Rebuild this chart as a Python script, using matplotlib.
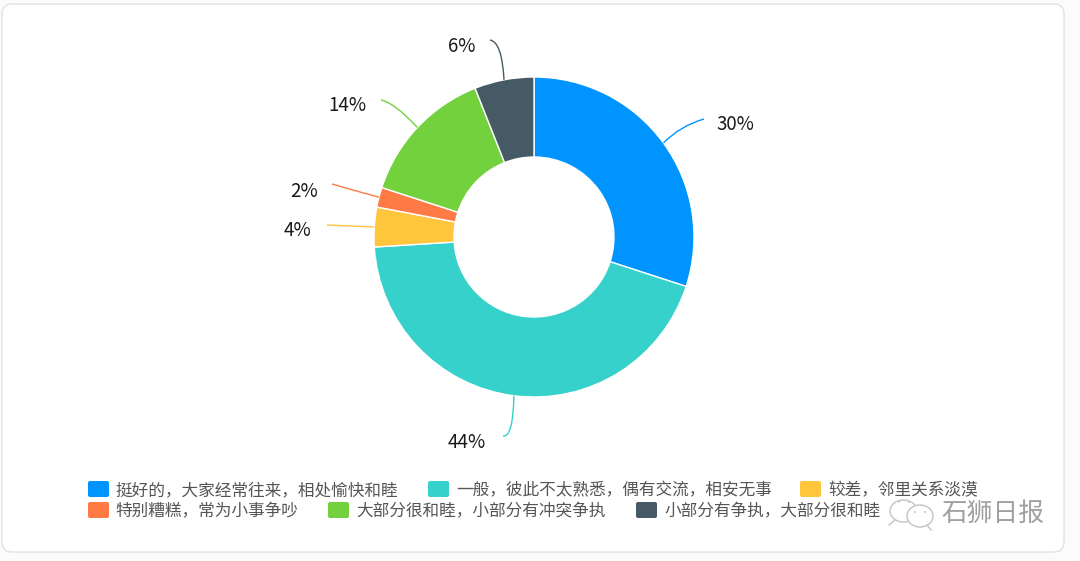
import numpy as np
import matplotlib
matplotlib.use('Agg')
import matplotlib.pyplot as plt
from matplotlib.patches import FancyBboxPatch, Ellipse, Circle, PathPatch
from matplotlib.path import Path

plt.rcParams['font.family'] = ['Noto Sans CJK SC', 'DejaVu Sans']

# data
categories = ['挺好的，大家经常往来，相处愉快和睦', '一般，彼此不太熟悉，偶有交流，相安无事', '较差，邻里关系淡漠',
              '特别糟糕，常为小事争吵', '大部分很和睦，小部分有冲突争执', '小部分有争执，大部分很和睦']
values = [30, 44, 4, 2, 14, 6]
colors = ['#0094FF', '#36D1CB', '#FFC53D', '#FF7A45', '#73D13D', '#465A65']

# layout in pixels, y measured from the top of the picture
W, H = 1080, 561
cx, cy, R = 534, 237, 160
label_pos = [(735, 124), (467, 442), (297, 230), (304, 191), (347, 105), (462, 46)]
line_end = [(704, 119), (503, 436), (327, 225), (332, 184), (381, 100), (490, 40)]
line_ctrl = [(680, 126), (513, 438), (350, 226), (345, 188), (395, 103), (502, 42)]
swatch_x = [88, 428, 800, 88, 328, 636]
text_x = [115, 456, 828, 115, 356, 664]
row_y = [489, 489, 489, 510, 510, 510]


def pixel_axes(zorder):
    a = fig.add_axes([0, 0, 1, 1], zorder=zorder)
    a.set_xlim(0, W)
    a.set_ylim(H, 0)
    a.axis('off')
    return a


fig = plt.figure(figsize=(W / 100, H / 100), dpi=100, facecolor='#FBFBFB')

# white card behind everything
bg = pixel_axes(0)
bg.add_patch(FancyBboxPatch((9, 11), 1048, 534, boxstyle='round,pad=7,rounding_size=10',
                            fc='white', ec='#E2E2E2', lw=1.0))

# donut has its own axes, placed on the same pixel grid
pie_ax = fig.add_axes([(cx - R - 2) / W, 1 - (cy + R + 2) / H, (2 * R + 4) / W, (2 * R + 4) / H], zorder=1)
pie_ax.pie(values, colors=colors, startangle=90, counterclock=False, radius=R, center=(0, 0), frame=True,
           wedgeprops=dict(width=R / 2, edgecolor='white', linewidth=1.0))
pie_ax.set_xlim(-R - 2, R + 2)
pie_ax.set_ylim(-R - 2, R + 2)
pie_ax.axis('off')

ax = pixel_axes(2)

# leader lines start at the middle of each slice
mids = (np.cumsum(values) - np.array(values) / 2) / np.sum(values) * 2 * np.pi
for i, v in enumerate(values):
    start = (cx + R * np.sin(mids[i]), cy - R * np.cos(mids[i]))
    path = Path([start, line_ctrl[i], line_end[i]], [Path.MOVETO, Path.CURVE3, Path.CURVE3])
    ax.add_patch(PathPatch(path, fc='none', ec=colors[i], lw=1.0, zorder=3))
    ax.text(label_pos[i][0], label_pos[i][1], '%d%%' % v, ha='center', va='center',
            fontsize=13.5, color='#1A1A1A', zorder=5)

# legend
for i, name in enumerate(categories):
    ax.add_patch(FancyBboxPatch((swatch_x[i] + 2, row_y[i] - 6), 17, 12, boxstyle='round,pad=2,rounding_size=2',
                                fc=colors[i], ec='none'))
    ax.text(text_x[i], row_y[i] + 1.5, name, ha='left', va='center', fontsize=12, color='#555555')

# watermark
gray = '#C8C8C8'
ax.add_patch(Ellipse((903.5, 511), 27, 22, fc='none', ec=gray, lw=1.1, zorder=6))
ax.plot([895, 889], [520, 525], color=gray, lw=1.1, zorder=6)
ax.add_patch(Ellipse((920, 516), 26, 22, fc='white', ec=gray, lw=1.1, zorder=6))
ax.plot([927, 931], [525, 530], color=gray, lw=1.1, zorder=6)
for x, y in [(899, 502), (909, 502), (915, 512), (925, 512)]:
    ax.add_patch(Circle((x, y), 1.0, fc=gray, ec='none', zorder=7))
ax.text(993, 514, '石狮日报', ha='center', va='center', fontsize=18.5, color='#A0A0A0',
        fontweight='light', zorder=7)

fig.savefig('out.png', dpi=100, facecolor=fig.get_facecolor())
